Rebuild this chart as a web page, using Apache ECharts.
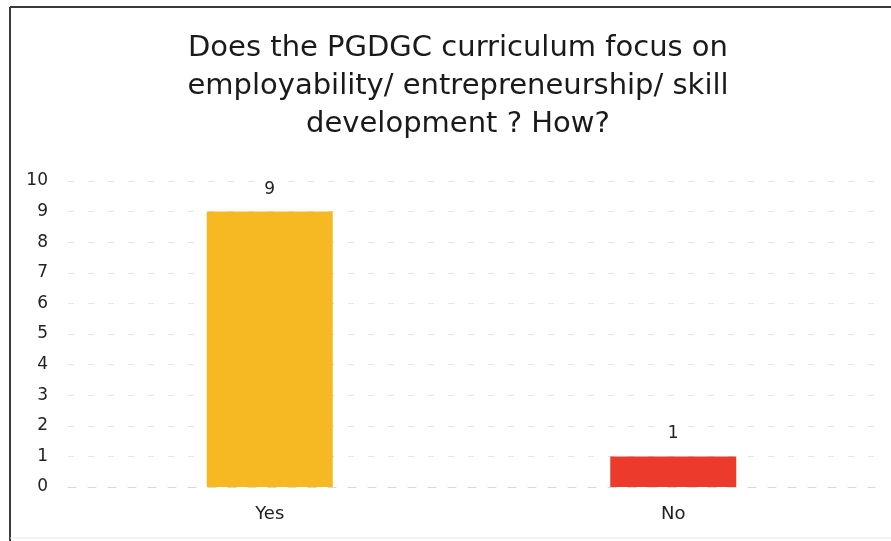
<!DOCTYPE html>
<html>
<head>
<meta charset="utf-8">
<script src="https://cdn.jsdelivr.net/npm/echarts@6/dist/echarts.min.js"></script>
<style>
  html, body { margin: 0; padding: 0; background: #fff; }
  #chart { width: 891px; height: 541px; }
</style>
</head>
<body>
<div id="chart"></div>
<script>
// Survey answers and counts
const categories = ['Yes', 'No'];
const counts = [9, 1];
const barColors = ['#F6B921', '#EC3B2D'];
const yTicks = [0, 1, 2, 3, 4, 5, 6, 7, 8, 9, 10];
const titleText = 'Does the PGDGC curriculum focus on\nemployability/ entrepreneurship/ skill\ndevelopment ? How?';

const FONT = '"DejaVu Sans", sans-serif';
const chart = echarts.init(document.getElementById('chart'), null, { renderer: 'canvas' });

chart.setOption({
  animation: false,
  backgroundColor: '#ffffff',
  title: {
    text: titleText,
    left: 453,
    top: 24,
    textAlign: 'center',
    textStyle: {
      fontFamily: FONT,
      fontSize: 29,
      fontWeight: 'normal',
      color: '#1a1a1a',
      lineHeight: 38
    }
  },
  graphic: [
    { type: 'line', shape: { x1: 10, y1: 7, x2: 891, y2: 7 }, style: { stroke: '#3a3a3a', lineWidth: 2 } },
    { type: 'line', shape: { x1: 10, y1: 7, x2: 10, y2: 541 }, style: { stroke: '#3a3a3a', lineWidth: 2 } },
    { type: 'line', shape: { x1: 10, y1: 538, x2: 891, y2: 538 }, style: { stroke: '#e6e6e6', lineWidth: 1 } }
  ],
  grid: { left: 68, right: 16, top: 181, bottom: 54, containLabel: false },
  xAxis: {
    type: 'category',
    data: categories,
    axisLine: { show: true, lineStyle: { color: '#d9d9d9', width: 1, type: [8, 12] } },
    axisTick: { show: false },
    axisLabel: {
      color: '#222',
      fontSize: 18,
      fontFamily: FONT,
      margin: 18
    }
  },
  yAxis: {
    type: 'value',
    min: yTicks[0],
    max: yTicks[yTicks.length - 1],
    interval: 1,
    axisLine: { show: false },
    axisTick: { show: false },
    splitLine: { show: true, lineStyle: { color: '#e4e4e4', width: 1, type: [6, 14] } },
    axisLabel: {
      color: '#222',
      fontSize: 17,
      fontFamily: FONT,
      margin: 20
    }
  },
  series: [{
    type: 'bar',
    data: counts.map((v, i) => ({ value: v, itemStyle: { color: barColors[i] } })),
    barWidth: 126,
    label: {
      show: true,
      position: 'top',
      distance: 14,
      color: '#222',
      fontSize: 17,
      fontFamily: FONT
    }
  }]
});
</script>
</body>
</html>
